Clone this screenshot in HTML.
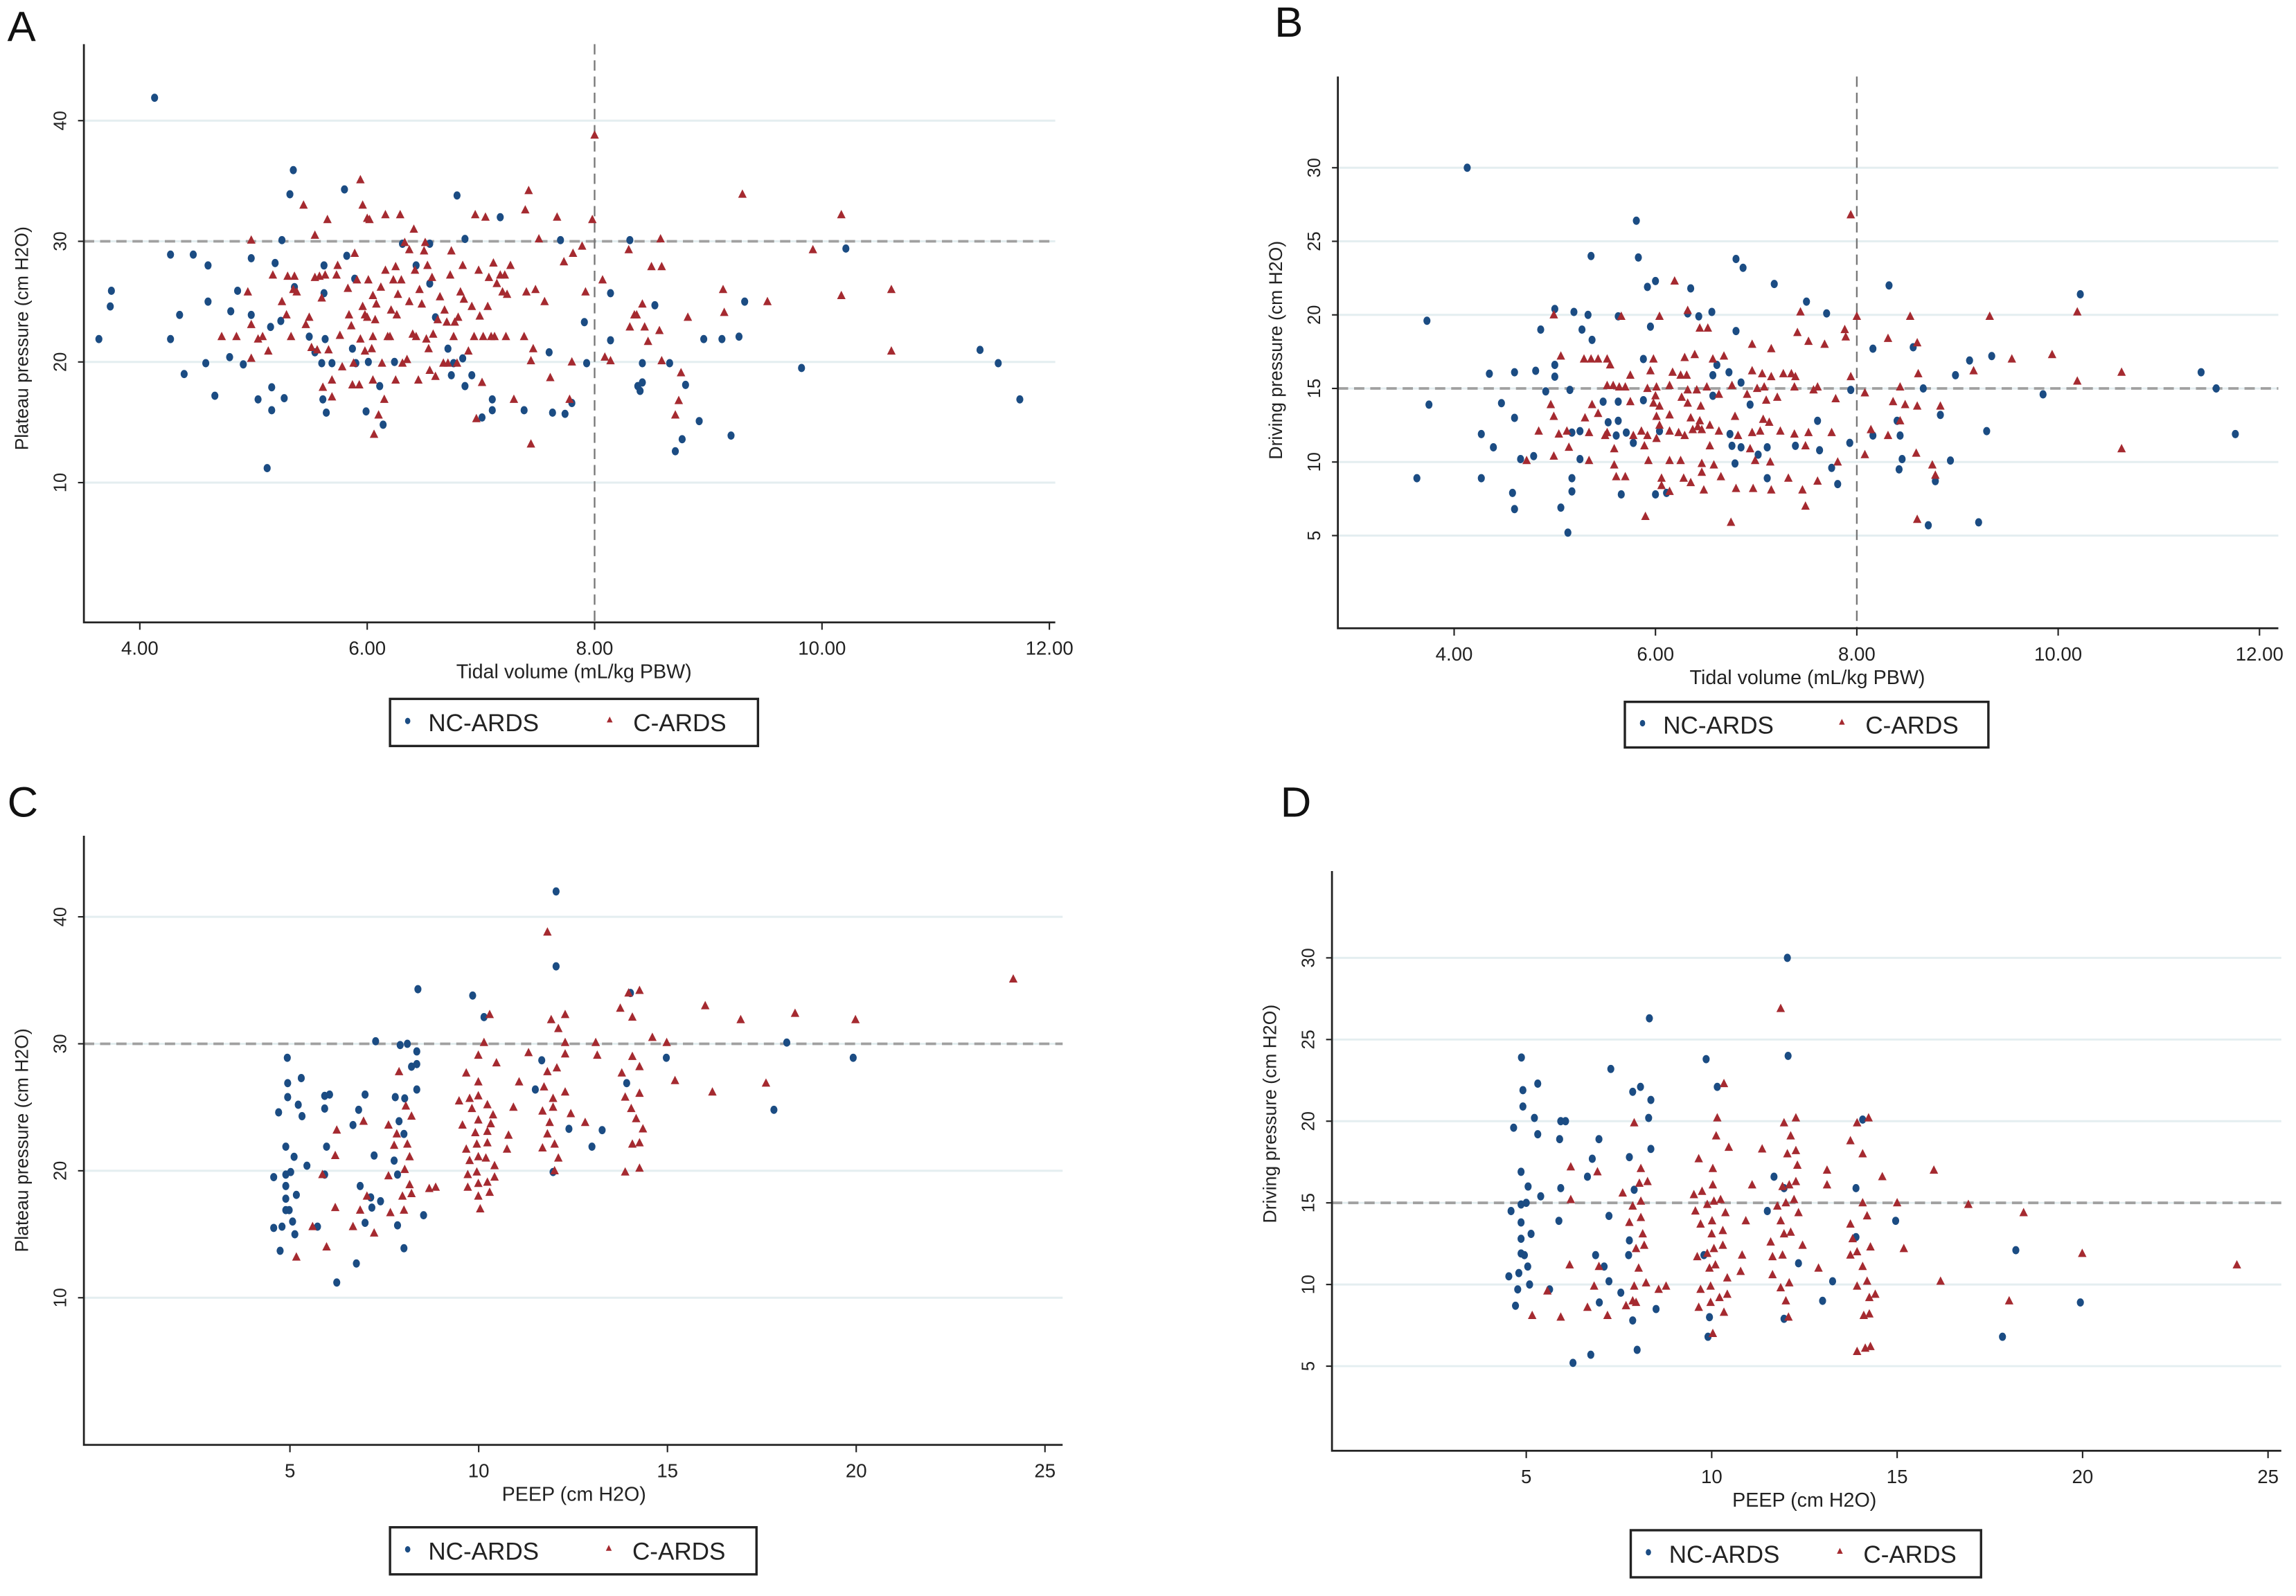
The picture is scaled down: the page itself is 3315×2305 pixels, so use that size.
<!DOCTYPE html>
<html><head><meta charset="utf-8">
<style>
html,body{margin:0;padding:0;background:#fff;}
svg{display:block;font-family:"Liberation Sans",Arial,sans-serif;}
</style></head>
<body>
<svg id="fig" width="3315" height="2305" viewBox="0 0 1560 1084.7" xmlns="http://www.w3.org/2000/svg"></svg>
<script>
// ---- Panel A: tidal volume vs plateau pressure ----
const aNC=[[4.13,41.9],[3.64,21.9],[3.75,25.9],[3.74,24.6],[4.27,28.9],[4.27,21.9],[4.35,23.9],[4.39,19],[4.47,28.9],[4.58,19.9],[4.6,28],[4.6,25],[4.66,17.2],[4.79,20.4],[4.8,24.2],[4.86,25.9],[4.91,19.8],[4.98,28.6],[4.98,23.9],[5.04,16.9],[5.12,11.2],[5.15,22.9],[5.16,17.9],[5.16,16],[5.19,28.2],[5.24,23.4],[5.25,30.1],[5.27,17],[5.32,33.9],[5.35,35.9],[5.36,26.2],[5.49,22.1],[5.54,20.8],[5.6,19.9],[5.61,16.9],[5.62,28],[5.62,25.7],[5.64,15.8],[5.63,21.9],[5.69,19.9],[5.8,34.3],[5.82,28.8],[5.87,21.1],[5.89,26.9],[5.9,19.9],[5.99,15.9],[6.01,20],[6.11,18],[6.14,14.8],[6.24,20],[6.31,29.8],[6.43,28],[6.55,29.8],[6.55,26.5],[6.6,23.7],[6.71,21.1],[6.74,18.9],[6.76,19.9],[6.79,33.8],[6.86,30.2],[6.86,18],[6.92,18.9],[6.84,20.3],[7.01,15.4],[7.1,16.9],[7.1,16],[7.17,32],[7.38,16],[7.6,20.8],[7.63,15.8],[7.7,30.1],[7.74,15.7],[7.8,16.6],[7.91,23.3],[7.93,19.9],[8.14,25.7],[8.14,21.8],[8.31,30.1],[8.38,18],[8.4,17.6],[8.42,19.9],[8.42,18.3],[8.53,24.7],[8.66,19.9],[8.71,12.6],[8.77,13.6],[8.8,18.1],[8.92,15.1],[8.96,21.9],[9.12,21.9],[9.2,13.9],[9.27,22.1],[9.32,25],[9.82,19.5],[10.21,29.4],[11.39,21],[11.55,19.9],[11.74,16.9]];
const aC=[[4.72,22.1],[4.85,22.1],[4.95,25.8],[4.98,30.1],[4.98,23.1],[4.98,20.3],[5.04,21.9],[5.08,22.1],[5.13,20.9],[5.17,27.2],[5.25,25],[5.29,23.9],[5.3,27.1],[5.33,22.1],[5.35,26],[5.36,27.1],[5.38,25.8],[5.44,33],[5.46,23.1],[5.49,23.7],[5.51,21.2],[5.54,27],[5.54,30.5],[5.56,21],[5.58,27.1],[5.6,25.3],[5.61,17.9],[5.63,27.2],[5.65,31.8],[5.66,21],[5.69,18.5],[5.69,17.1],[5.73,27.2],[5.74,28],[5.76,22.2],[5.78,19.6],[5.83,26.1],[5.84,23.9],[5.86,23],[5.87,18.1],[5.88,19.9],[5.89,29],[5.91,26.8],[5.93,18.1],[5.94,35.1],[5.94,21.9],[5.96,24.6],[5.96,33],[5.98,23.9],[5.98,20.9],[6,31.9],[6,23.7],[6.01,26.8],[6.02,31.8],[6.04,21.1],[6.05,22.1],[6.05,25.5],[6.05,18.5],[6.06,14],[6.07,23.5],[6.08,24.8],[6.1,15.6],[6.12,26.2],[6.13,19.9],[6.15,16.9],[6.16,27.6],[6.16,32.2],[6.18,22.1],[6.2,22.1],[6.21,24.3],[6.23,26.8],[6.25,27.9],[6.25,18.5],[6.26,23.9],[6.27,25.6],[6.29,32.2],[6.3,26.8],[6.31,19.9],[6.33,29.9],[6.35,20.2],[6.37,29.3],[6.37,25],[6.4,22.3],[6.41,31],[6.42,27.6],[6.43,22.1],[6.45,18.5],[6.46,26],[6.48,24.8],[6.5,29.2],[6.51,29.9],[6.52,21.9],[6.53,28],[6.54,21.1],[6.55,19.3],[6.57,27],[6.58,22.3],[6.6,18.8],[6.62,23.5],[6.64,25.4],[6.67,19.9],[6.68,24.3],[6.7,23.3],[6.71,19.9],[6.73,27.2],[6.74,29.2],[6.76,22.1],[6.77,23.3],[6.79,19.9],[6.8,23.7],[6.82,25.8],[6.84,28],[6.85,25.2],[6.89,20.9],[6.92,24.6],[6.94,22.1],[6.95,32.2],[6.96,15.3],[6.98,27.6],[6.99,23.8],[7.01,18.3],[7.02,22.1],[7.04,32],[7.06,24.6],[7.07,27],[7.09,22.1],[7.11,28.2],[7.12,22.1],[7.14,26.5],[7.17,27.2],[7.19,25.8],[7.21,27.2],[7.22,22.1],[7.23,25.6],[7.26,28],[7.29,16.9],[7.38,22.1],[7.39,32.6],[7.4,25.8],[7.42,34.2],[7.44,20.1],[7.44,13.2],[7.46,21.1],[7.48,26],[7.51,30.2],[7.56,25],[7.61,18.7],[7.67,32],[7.73,28.3],[7.78,16.9],[7.8,20],[7.81,29],[7.89,29.6],[7.92,25.8],[7.98,31.8],[8,38.8],[8.07,26.8],[8.09,20.4],[8.14,20.1],[8.3,29.3],[8.31,22.9],[8.35,23.9],[8.37,23.9],[8.42,24.8],[8.44,22.9],[8.47,21.7],[8.5,27.9],[8.57,22.6],[8.58,30.2],[8.59,27.9],[8.59,20.1],[8.71,15.6],[8.74,16.8],[8.76,19.1],[8.82,23.7],[9.13,26],[9.14,24.1],[9.3,33.9],[9.52,25],[9.92,29.3],[10.17,32.2],[10.17,25.5],[10.61,26],[10.61,20.9]];
// ---- Panel B: tidal volume vs driving pressure ----
const bNC=[[4.13,30],[5.81,26.4],[3.73,19.6],[3.75,13.9],[3.63,8.9],[5.36,24],[5.83,23.9],[6.8,23.8],[6.87,23.2],[6,22.3],[5.92,21.9],[6.35,21.8],[7.18,22.1],[8.32,22],[10.22,21.4],[7.5,20.9],[5,20.4],[5.19,20.2],[5.33,20],[5.63,19.9],[6.32,20.1],[6.43,19.9],[6.56,20.2],[7.7,20.1],[5.95,19.2],[4.86,19],[5.27,19],[6.8,18.9],[5.37,18.3],[8.16,17.7],[8.56,17.8],[9.12,16.9],[9.34,17.2],[5.88,17],[5,16.6],[4.35,16],[4.6,16.1],[4.81,16.2],[5,15.8],[6.57,15.9],[6.73,16.1],[8.98,15.9],[11.42,16.1],[4.91,14.8],[5.15,14.9],[6.85,15.4],[7.94,14.9],[8.66,15],[11.57,15],[9.85,14.6],[4.47,14],[5.48,14.1],[5.63,14.1],[5.88,14.2],[6.57,14.5],[6.61,16.6],[6.94,13.9],[4.6,13],[5.53,12.7],[5.63,12.8],[7.61,12.8],[8.83,13.2],[8.4,12.8],[4.27,11.9],[5.17,12],[5.25,12.1],[5.61,11.8],[5.71,12],[6.04,12.1],[6.74,11.9],[8.16,11.8],[8.43,11.8],[9.29,12.1],[11.76,11.9],[4.39,11],[5.78,11.3],[6.76,11.1],[6.85,11],[7.11,11],[7.39,11.1],[7.63,10.8],[7.93,11.3],[7.02,10.5],[4.79,10.4],[4.66,10.2],[5.25,10.2],[6.79,9.9],[8.45,10.2],[8.93,10.1],[7.75,9.6],[8.42,9.5],[4.27,8.9],[5.17,8.9],[7.11,8.9],[7.81,8.5],[8.78,8.7],[4.58,7.9],[5.17,8],[5.66,7.8],[6,7.8],[6.11,7.9],[4.6,6.8],[5.06,6.9],[8.71,5.7],[9.21,5.9],[5.13,5.2]];
const bC=[[7.94,26.8],[6.19,22.3],[7.44,20.2],[4.99,20],[5.66,19.9],[6.04,19.9],[6.32,20.3],[8,19.9],[8.53,19.9],[9.32,19.9],[10.19,20.2],[6.44,19.1],[6.52,19.1],[7.41,18.8],[7.88,19],[7.89,18.5],[6.96,18],[7.15,17.7],[7.52,18.2],[7.68,18],[8.31,18.4],[8.6,18.1],[5.06,17.2],[5.29,17],[5.36,17],[5.43,17],[5.52,17],[5.55,16.6],[5.98,17],[6.29,17.1],[6.39,17.3],[6.57,17],[6.68,17.2],[9.54,17],[9.94,17.3],[5.75,15.9],[5.95,16.2],[6.17,16.1],[6.25,15.9],[6.31,15.9],[6.96,16.2],[7.06,16],[7.15,15.8],[7.27,16],[7.35,16],[7.39,15.8],[7.94,15.8],[8.61,16],[9.16,16.2],[10.63,16.1],[10.19,15.5],[5.52,15.2],[5.58,15.2],[5.64,15.1],[5.7,15.1],[5.92,15],[6.01,15.1],[6.14,15.2],[6.32,14.9],[6.41,14.9],[6.51,15.1],[6.76,15.2],[7.01,15],[7.08,15.1],[7.38,15.1],[7.57,14.9],[7.61,15.1],[8.08,14.7],[8.43,15.1],[6,14.5],[6.26,14.4],[6.63,14.6],[6.91,14.6],[7.21,14.4],[7.79,14.3],[4.96,13.9],[5.37,13.9],[5.75,14.1],[5.98,14],[6.04,13.8],[6.32,14],[6.45,13.8],[7.1,14.2],[8.36,14.1],[8.48,13.9],[8.6,13.8],[8.83,13.8],[4.99,13.1],[5.43,13.3],[5.3,13],[6.01,13.1],[6.14,13.2],[6.35,13],[6.79,13.1],[7.07,12.9],[8.43,12.8],[6.44,12.8],[6.42,12.4],[6.54,12.5],[7.13,12.7],[6.04,12.5],[4.84,12.1],[5.04,11.9],[5.12,12.1],[5.34,12],[5.52,12],[5.86,12.1],[5.92,11.8],[6.14,12.1],[6.23,12],[6.29,11.8],[6.37,12.2],[6.46,12.2],[6.63,12.1],[6.82,11.8],[6.96,12],[7.04,12.1],[7.24,12.1],[7.38,11.9],[7.52,12],[7.75,12],[8.14,12.2],[8.31,11.8],[6.01,11.6],[5.5,11.8],[5.78,11.8],[5.14,11],[5.59,10.9],[5.89,11.1],[6.54,11.1],[6.94,10.9],[7.49,11.1],[10.63,10.9],[4.99,10.4],[5.34,10.1],[5.93,10.1],[6.14,10.1],[6.25,10.1],[6.46,9.9],[6.58,9.8],[6.99,10.1],[7.14,10],[8.08,10.5],[7.81,10],[8.59,10.6],[4.72,10.1],[5.59,9.8],[8.75,9.8],[6.46,9.3],[6.65,9],[7.32,8.9],[8.78,9.1],[5.61,9],[5.7,9],[6.06,8.9],[6.28,8.9],[6.35,8.6],[6.06,8.4],[6.48,8.1],[6.8,8.2],[6.97,8.2],[7.15,8.1],[7.46,8.1],[7.61,8.7],[6.14,8],[7.49,7],[5.9,6.3],[6.75,5.9],[8.6,6.1]];
// ---- Panel C: PEEP vs plateau pressure ----
const cNC=[[12.05,42],[12.05,36.1],[8.39,34.3],[9.84,33.8],[10.14,32.1],[7.27,30.2],[7.92,29.9],[8.11,30],[8.36,29.4],[4.93,28.9],[4.94,26.9],[4.94,25.8],[5.3,27.3],[4.7,24.6],[5.22,25.2],[5.32,24.3],[5.92,25.9],[6.05,26],[5.92,24.9],[6.99,26],[6.82,24.8],[6.67,23.6],[8.22,28.2],[8.36,28.4],[7.79,25.8],[8.04,25.7],[8.36,26.4],[7.89,23.9],[8.02,22.9],[4.89,21.9],[5.11,21.1],[5.97,21.9],[5.45,20.4],[4.89,19.7],[5.02,19.9],[4.57,19.5],[5.92,19.7],[7.23,21.2],[7.76,20.8],[7.85,19.7],[4.89,18.8],[4.89,17.8],[5.17,18.1],[6.86,18.8],[7.14,17.9],[7.4,17.6],[7.17,17.1],[4.89,16.9],[4.98,16.9],[5.07,16],[4.57,15.5],[4.79,15.6],[5.13,15],[5.73,15.6],[6.99,15.9],[7.85,15.7],[8.54,16.5],[4.74,13.7],[8.02,13.9],[6.76,12.7],[6.24,11.2],[11.5,26.4],[11.67,28.7],[12.39,23.3],[13,21.9],[13.27,23.2],[11.97,19.9],[13.92,26.9],[14.02,34],[14.97,28.9],[17.82,24.8],[18.16,30.1],[19.92,28.9]];
const cC=[[24.16,35.1],[11.82,38.8],[10.29,32.3],[11.92,31.9],[12.29,32.3],[12.11,31.2],[16,33],[16.94,31.9],[18.38,32.4],[19.98,31.9],[13.75,32.8],[13.97,34],[14.07,32.1],[14.26,34.2],[14.6,30.5],[10.14,30.1],[12.29,30.1],[13.1,30.1],[14.98,30.1],[9.99,29.1],[11.32,29.3],[12.29,29.2],[13.14,29.1],[14.07,29],[10.47,28.5],[7.89,27.8],[9.67,27.7],[11.82,27.8],[12.07,28.1],[13.79,27.7],[14.26,28.2],[11.07,27],[11.73,26.6],[9.99,27],[15.2,27.1],[16.19,26.2],[17.61,26.9],[8.07,25.1],[8.22,24.3],[9.48,25.5],[9.76,25.7],[9.99,25.9],[10.23,25.2],[11.97,25.7],[12.29,26.2],[13.88,25.8],[14.26,26.1],[11.69,24.7],[11.97,25],[9.82,24.9],[10.38,24.4],[10.92,25],[12.44,24.5],[14.04,24.9],[7.61,23.6],[9.57,23.6],[9.99,24],[10.32,23.7],[11.88,23.8],[12.82,23.8],[14.17,24.1],[6.24,23.2],[7.83,22.9],[9.91,23],[10.23,23.1],[11.82,22.9],[14.35,23.3],[6.2,21.2],[7.76,22],[8.11,22.1],[9.67,21.7],[9.95,22.1],[10.23,22.2],[10.79,22.8],[11.69,21.8],[12.01,22.1],[14.07,22.1],[14.26,22.2],[10.75,21.7],[7.61,19.6],[8.04,20.1],[8.17,21.1],[9.76,20.8],[9.99,21.1],[10.19,21],[10.42,20.4],[12.01,20],[12.11,21],[13.88,19.9],[14.26,20.2],[5.86,19.7],[9.71,19.7],[9.95,19.9],[10.42,19.5],[8.17,18.9],[8.69,18.6],[8.86,18.7],[9.71,18.7],[9.99,19],[10.23,19.1],[7.98,18],[8.22,18.2],[9.99,18],[10.29,18.3],[7.04,18],[7.66,16.7],[8.02,16.9],[10.04,17],[6.86,16.9],[6.2,17.1],[5.6,15.6],[6.67,15.6],[7.23,15.1],[5.97,14],[5.17,13.2],[6.95,23.9]];
// ---- Panel D: PEEP vs driving pressure ----
const dNC=[[4.87,23.9],[4.91,21.9],[4.91,20.9],[5.31,22.3],[5.22,20.2],[4.66,19.6],[5.31,19.2],[5.93,20],[6.06,20],[5.9,18.9],[4.86,16.9],[5.05,16],[5.39,15.4],[4.59,14.5],[4.86,14.9],[5,15],[4.86,13.8],[5.13,13.1],[4.86,12.8],[4.86,11.9],[4.95,11.8],[5.04,11.1],[4.8,10.7],[4.53,10.5],[5.09,10],[4.77,9.7],[4.71,8.7],[5.63,9.7],[5.93,15.9],[5.88,13.9],[6.26,5.2],[6.74,5.7],[7.28,23.2],[6.78,17.7],[6.65,16.6],[6.96,18.9],[7.23,14.2],[6.87,11.8],[7.1,11.1],[7.23,10.2],[6.97,8.9],[7.55,9.5],[7.87,21.8],[8.08,22.1],[8.32,26.3],[8.36,21.3],[8.3,20.2],[8.36,18.3],[7.78,17.8],[7.91,15.8],[7.78,12.7],[7.76,11.8],[7.87,7.8],[7.99,6],[8.5,8.5],[9.85,23.8],[10.15,22.1],[9.79,11.8],[9.94,8],[9.9,6.8],[12.04,30],[12.06,24],[11.68,16.6],[11.5,14.5],[11.95,15.9],[12.34,11.3],[11.95,7.9],[12.99,9],[13.26,10.2],[14.07,20.1],[13.89,15.9],[13.89,12.9],[14.96,13.9],[18.2,12.1],[17.84,6.8],[19.94,8.9]];
const dC=[[11.86,26.9],[10.33,22.3],[10.15,20.2],[7.91,19.9],[11.95,19.9],[12.27,20.2],[13.92,19.9],[14.23,20.2],[10.12,19.1],[12.13,19.1],[10.46,18.4],[11.36,18.3],[12.27,18.2],[12.04,18],[13.74,18.8],[14.07,18],[9.65,17.7],[12.31,17.3],[6.2,17.2],[6.92,16.9],[8.09,17.1],[10.03,17.1],[13.11,17],[15.99,17],[14.6,16.6],[8.05,16.2],[8.27,16.3],[10.03,16.1],[11.09,16.1],[11.91,16],[12.09,16.1],[12.27,16.3],[13.11,16.1],[7.6,15.6],[6.2,15.2],[9.52,15.5],[9.74,15.7],[7.87,14.8],[8.09,15.1],[9.88,14.9],[10.06,15.1],[10.24,15.2],[11.77,14.8],[12,15],[12.22,15.2],[14.07,15],[15,15],[16.92,14.9],[9.56,14.5],[10.37,14.4],[12.34,14.4],[14.19,14.2],[18.41,14.4],[7.78,13.8],[8.09,14.1],[9.7,13.7],[10.01,13.9],[10.92,13.9],[11.86,13.9],[13.74,13.7],[8.14,13.1],[10,13.1],[10.3,13.3],[11.95,13.1],[12.13,13.2],[7.96,12.2],[8.18,12.4],[10.06,12.2],[10.3,12.4],[11.59,12.6],[12.45,12.4],[13.8,12.8],[14.28,12.3],[15.18,12.2],[19.99,11.9],[9.61,11.7],[9.88,11.9],[10.82,11.8],[11.64,11.7],[11.91,11.8],[13.74,11.8],[13.92,12],[6.17,11.2],[6.96,11.1],[8.03,11],[9.94,11],[10.1,11.2],[12.88,11],[14.07,11.1],[24.16,11.2],[10.78,10.8],[10.42,10.4],[11.64,10.6],[16.17,10.2],[5.57,9.6],[6.83,9.9],[7.91,9.9],[8.23,10.1],[8.57,9.7],[8.77,9.9],[9.7,9.7],[9.97,9.9],[11.86,9.8],[12.09,10.1],[13.92,9.9],[14.19,10.2],[9.97,8.9],[10.21,9.2],[10.42,9.4],[7.87,9],[7.96,8.9],[12,9],[14.25,9.2],[14.41,9.4],[18.02,9],[6.65,8.6],[7.19,8.1],[7.69,8.7],[9.65,8.6],[10.33,8.3],[5.16,8.1],[5.93,8],[12.07,8],[14.1,8.1],[14.25,8.2],[10.03,7],[13.92,5.9],[14.14,6.1],[14.28,6.2]];
const tvTicks=[4,6,8,10,12];
const tvTickLabels=["4.00","6.00","8.00","10.00","12.00"];
const peepTicks=[5,10,15,20,25];
const platTicks=[10,20,30,40];
const drivTicks=[5,10,15,20,25,30];
const legendLabels=["NC-ARDS","C-ARDS"];

const NS="http://www.w3.org/2000/svg";
const svg=document.getElementById('fig');
const BLUE="#1b4c83", RED="#a52a30";
function mk(tag,attrs,parent){const e=document.createElementNS(NS,tag);for(const k in attrs)e.setAttribute(k,attrs[k]);(parent||svg).appendChild(e);return e;}

function panel(cfg){
  const g=mk('g',{});
  
  
  const sx=v=>cfg.x0+(v-cfg.xv0)*cfg.xk;
  const sy=v=>cfg.y0-(v-cfg.yv0)*cfg.yk;
  const letter=mk('text',{x:cfg.lx,y:cfg.ly,'font-size':29,fill:'#111'},g);letter.textContent=cfg.id;
  
  
  cfg.yTicks.forEach(v=>{
    const l=mk('line',{x1:cfg.L,x2:cfg.R,y1:sy(v),y2:sy(v),stroke:'#e4eef0','stroke-width':1.4},g);
    
    
    const t=mk('line',{x1:cfg.L-4,x2:cfg.L,y1:sy(v),y2:sy(v),stroke:'#222','stroke-width':1},g);
    
    
    const lab=mk('text',{x:cfg.L-12,y:sy(v),'font-size':12,fill:'#222','text-anchor':'middle',transform:`rotate(-90 ${cfg.L-12} ${sy(v)})`},g);
    lab.textContent=v;
    
    
  });
  const h=mk('line',{x1:cfg.L,x2:cfg.R,y1:sy(cfg.hRef),y2:sy(cfg.hRef),stroke:'#a0a0a0','stroke-width':1.8,'stroke-dasharray':'7,4'},g);
  
  
  if(cfg.vRef!==undefined){
    const v=mk('line',{x1:sx(cfg.vRef),x2:sx(cfg.vRef),y1:cfg.T,y2:cfg.B,stroke:'#777','stroke-width':1.1,'stroke-dasharray':'7,4'},g);
    
    
  }
  const ax=mk('path',{d:`M${cfg.L},${cfg.T} L${cfg.L},${cfg.B} L${cfg.R},${cfg.B}`,fill:'none',stroke:'#222','stroke-width':1.3},g);
  
  
  cfg.xTicks.forEach((v,i)=>{
    const t=mk('line',{x1:sx(v),x2:sx(v),y1:cfg.B,y2:cfg.B+5,stroke:'#222','stroke-width':1},g);
    
    
    const lab=mk('text',{x:sx(v),y:cfg.B+22,'font-size':13,fill:'#222','text-anchor':'middle'},g);
    lab.textContent=cfg.xLabels[i];
    
    
  });
  const xt=mk('text',{x:cfg.xtX,y:cfg.B+38,'font-size':13.5,fill:'#222','text-anchor':'middle'},g);
  xt.textContent=cfg.xTitle;
  
  
  const yc=cfg.ytY;
  const yt=mk('text',{x:cfg.L-38,y:yc,'font-size':12.5,fill:'#222','text-anchor':'middle',transform:`rotate(-90 ${cfg.L-38} ${yc})`},g);
  yt.textContent=cfg.yTitle;
  
  
  cfg.nc.forEach(p=>{
    const c=mk('ellipse',{cx:sx(p[0]),cy:sy(p[1]),rx:2.4,ry:2.8,fill:BLUE},g);
    
    
  });
  cfg.c.forEach(p=>{
    const x=sx(p[0]),y=sy(p[1]);
    const t=mk('polygon',{points:`${x},${y-3.3} ${x-2.9},${y+2.4} ${x+2.9},${y+2.4}`,fill:RED},g);
    
    
  });
  const lg=mk('g',{},g);
  
  
  const [lx,ly,lw,lh]=cfg.leg;
  mk('rect',{x:lx,y:ly,width:lw,height:lh,fill:'#fff',stroke:'#222','stroke-width':1.6},lg);
  const cy=ly+lh/2;
  const e1=mk('g',{},lg);
  
  
  mk('ellipse',{cx:lx+12,cy:cy-1,rx:1.8,ry:2.2,fill:BLUE},e1);
  const t1=mk('text',{x:lx+26,y:cy+6,'font-size':16.5,fill:'#222'},e1);t1.textContent=legendLabels[0];
  const e2=mk('g',{},lg);
  
  
  const tx=lx+lw*0.597;
  mk('polygon',{points:`${tx},${cy-4} ${tx-2},${cy} ${tx+2},${cy}`,fill:RED},e2);
  const t2=mk('text',{x:tx+16,y:cy+6,'font-size':16.5,fill:'#222'},e2);t2.textContent=legendLabels[1];
}

panel({id:'A',lx:5,ly:28,L:57,R:717,T:30,B:423,x0:95,xv0:4,xk:77.25,y0:328,yv0:10,yk:8.2,
  xTicks:tvTicks,xLabels:tvTickLabels,yTicks:platTicks,hRef:30,vRef:8,xtX:390,
  xTitle:'Tidal volume (mL/kg PBW)',yTitle:'Plateau pressure (cm H2O)',ytY:230,
  nc:aNC,c:aC,leg:[265,475,250,32]});
panel({id:'B',lx:866,ly:25,L:909,R:1548,T:52,B:427,x0:988,xv0:4,xk:68.4,y0:314,yv0:10,yk:10,
  xTicks:tvTicks,xLabels:tvTickLabels,yTicks:drivTicks,hRef:15,vRef:8,xtX:1228,
  xTitle:'Tidal volume (mL/kg PBW)',yTitle:'Driving pressure (cm H2O)',ytY:238,
  nc:bNC,c:bC,leg:[1104,477,247,31]});
panel({id:'C',lx:5,ly:555,L:57,R:722,T:568,B:982,x0:197,xv0:5,xk:25.65,y0:882,yv0:10,yk:8.63,
  xTicks:peepTicks,xLabels:peepTicks.map(String),yTicks:platTicks,hRef:30,xtX:390,
  xTitle:'PEEP (cm H2O)',yTitle:'Plateau pressure (cm H2O)',ytY:775,
  nc:cNC,c:cC,leg:[265,1038,249,32]});
panel({id:'D',lx:870,ly:555,L:905,R:1550,T:592,B:986,x0:1037,xv0:5,xk:25.2,y0:873,yv0:10,yk:11.1,
  xTicks:peepTicks,xLabels:peepTicks.map(String),yTicks:drivTicks,hRef:15,xtX:1226,
  xTitle:'PEEP (cm H2O)',yTitle:'Driving pressure (cm H2O)',ytY:757,
  nc:dNC,c:dC,leg:[1108,1040,238,32]});
</script>
</body></html>
